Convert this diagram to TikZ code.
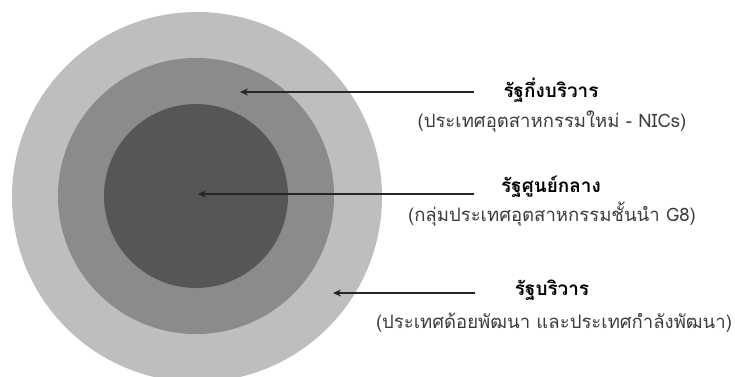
\documentclass[tikz,border=0pt]{standalone}
\usepackage{fontspec}
\setmainfont{Liberation Sans}
\newfontfamily\thaifont[Script=Thai]{Loma}
\usepackage{tikz}
\usetikzlibrary{arrows.meta,positioning}
\definecolor{ringout}{HTML}{BEBEBE}
\definecolor{ringmid}{HTML}{8A8B8A}
\definecolor{ringin}{HTML}{565656}
\definecolor{ink}{HTML}{262626}
\definecolor{subink}{HTML}{3C3C3C}
\tikzset{
  disc/.style={circle,fill=#1,draw=none,inner sep=0pt},
  ptr/.style={-{Stealth[length=8bp,width=7bp]},line width=1.1bp,draw=ink},
  ttl/.style={font=\thaifont\bfseries\fontsize{19}{22}\selectfont,text=black,inner sep=0pt},
  sub/.style={font=\thaifont\fontsize{18.6}{22}\selectfont,text=subink,inner sep=0pt},
}

\begin{document}
\begin{tikzpicture}[x=1bp,y=-1bp]
  \useasboundingbox (0,0) rectangle (735,376);
  \clip (0,0) rectangle (735,376);
  \fill[white] (0,0) rectangle (735,376);
  % rings
  \node[disc=ringout,minimum size=370bp] (outer)  at (197,197) {};
  \node[disc=ringmid,minimum size=276bp] (middle) at (196,196) {};
  \node[disc=ringin,minimum size=184bp]  (core)   at (196,196) {};
  % labels
  \node[ttl] (semi)    at (551,90)  {รัฐกึ่งบริวาร};
  \node[sub] (semisub) at (552,122) {(ประเทศอุตสาหกรรมใหม่ - NICs)};
  \node[ttl] (centre)    at (551,187) {รัฐศูนย์กลาง};
  \node[sub] (centresub) at (552,214) {(กลุ่มประเทศอุตสาหกรรมชั้นนำ G8)};
  \node[ttl] (peri)    at (552,290) {รัฐบริวาร};
  \node[sub] (perisub) at (554,323) {(ประเทศด้อยพัฒนา และประเทศกำลังพัฒนา)};
  % pointers
  \coordinate (semiTail) at (474,92);   \coordinate (semiTip) at (240,92);
  \coordinate (centreTail) at (474,194); \coordinate (centreTip) at (198,194);
  \coordinate (periTail) at (475,293);   \coordinate (periTip) at (333,293);
  \draw[ptr] (semiTail) -- (semiTip);
  \draw[ptr] (centreTail) -- (centreTip);
  \draw[ptr] (periTail) -- (periTip);
\end{tikzpicture}
\end{document}
